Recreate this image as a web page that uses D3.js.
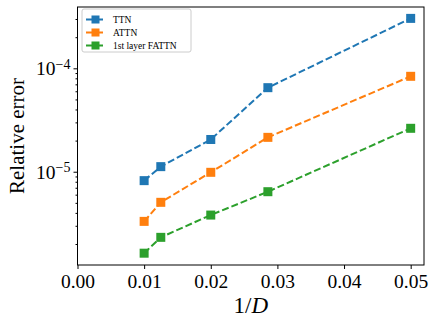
<!DOCTYPE html>
<html>
<head>
<meta charset="utf-8">
<script src="https://cdn.jsdelivr.net/npm/d3@7"></script>
<style>
  html, body { margin: 0; padding: 0; background: #fff; }
  svg { display: block; }
  text { font-family: "Liberation Serif", "DejaVu Serif", serif; fill: #000; }
</style>
</head>
<body>
<svg id="chart" width="436" height="325"></svg>
<script>
const xValues = [0.01, 0.0125, 0.02, 1/35, 0.05];
const seriesNames = ["TTN", "ATTN", "1st layer FATTN"];
const ttnValues = [8.2e-6, 1.12e-5, 2.05e-5, 6.5e-5, 3.04e-4];
const attnValues = [3.31e-6, 5.06e-6, 9.87e-6, 2.15e-5, 8.37e-5];
const fattnValues = [1.63e-6, 2.32e-6, 3.81e-6, 6.41e-6, 2.63e-5];
const seriesColors = ["#1f77b4", "#ff7f0e", "#2ca02c"];
const xTickValues = [0, 0.01, 0.02, 0.03, 0.04, 0.05];
const yMajorExponents = [-5, -4];

const svg = d3.select("#chart");
const margin = { left: 77.5, right: 12, top: 7, bottom: 60 };
const W = 436, H = 325;
const x = d3.scaleLinear().domain([0, 0.052]).range([margin.left, W - margin.right]);
const y = d3.scaleLog().domain([Math.pow(10, -5.902), Math.pow(10, -3.407)]).range([H - margin.bottom, margin.top]);

const seriesData = [ttnValues, attnValues, fattnValues];

const g = svg.append("g");

const line = d3.line().x((d, i) => x(xValues[i])).y(d => y(d));
seriesData.forEach((vals, si) => {
  g.append("path")
    .datum(vals)
    .attr("d", line)
    .attr("fill", "none")
    .attr("stroke", seriesColors[si])
    .attr("stroke-width", 2)
    .attr("stroke-dasharray", "7,3");
  g.selectAll(null)
    .data(vals)
    .enter()
    .append("rect")
    .attr("x", (d, i) => x(xValues[i]) - 4.5)
    .attr("y", d => y(d) - 4.5)
    .attr("width", 9)
    .attr("height", 9)
    .attr("fill", seriesColors[si]);
});

svg.append("rect")
  .attr("x", margin.left).attr("y", margin.top)
  .attr("width", W - margin.right - margin.left)
  .attr("height", H - margin.bottom - margin.top)
  .attr("fill", "none").attr("stroke", "#000").attr("stroke-width", 1);

const xAxis = d3.axisBottom(x).tickValues(xTickValues).tickFormat(d3.format(".2f")).tickSize(4).tickPadding(5);
const xg = svg.append("g").attr("transform", `translate(0,${H - margin.bottom})`).call(xAxis);
xg.select(".domain").remove();
xg.selectAll("text").style("font-size", "19.5px").style("font-family", "Liberation Serif, serif");

const minorVals = [];
for (let e = -6; e <= -4; e++) {
  for (let m = 2; m <= 9; m++) {
    const v = m * Math.pow(10, e);
    if (v >= y.domain()[0] && v <= y.domain()[1]) minorVals.push(v);
  }
}
const yMinor = d3.axisLeft(y).tickValues(minorVals).tickFormat("").tickSize(2);
const ymg = svg.append("g").attr("transform", `translate(${margin.left},0)`).call(yMinor);
ymg.select(".domain").remove();

const yMajorVals = yMajorExponents.map(e => Math.pow(10, e));
const yMajor = d3.axisLeft(y).tickValues(yMajorVals).tickFormat("").tickSize(4);
const yg = svg.append("g").attr("transform", `translate(${margin.left},0)`).call(yMajor);
yg.select(".domain").remove();

yg.selectAll(".tick").each(function(d, i) {
  const t = d3.select(this).append("text")
    .attr("x", -7)
    .attr("dy", "0.33em")
    .attr("text-anchor", "end")
    .style("font-size", "19.5px");
  t.append("tspan").text("10");
  t.append("tspan").attr("dy", "-0.45em").style("font-size", "14px").text("\u2212" + (-yMajorExponents[i]));
});

svg.append("text")
  .attr("transform", `translate(24,${(margin.top + H - margin.bottom) / 2}) rotate(-90)`)
  .attr("text-anchor", "middle")
  .style("font-size", "21px")
  .text("Relative error");

const xl = svg.append("text")
  .attr("x", (margin.left + W - margin.right) / 2)
  .attr("y", 313)
  .attr("text-anchor", "middle")
  .style("font-size", "23px");
xl.append("tspan").text("1/");
xl.append("tspan").style("font-style", "italic").text("D");

const leg = svg.append("g");
leg.append("rect")
  .attr("x", 82).attr("y", 9).attr("width", 109).attr("height", 43)
  .attr("rx", 2)
  .attr("fill", "#fff").attr("fill-opacity", 0.8)
  .attr("stroke", "#ccc").attr("stroke-width", 1);
seriesNames.forEach((name, i) => {
  const yy = 19.5 + i * 13;
  leg.append("line")
    .attr("x1", 86).attr("x2", 105).attr("y1", yy).attr("y2", yy)
    .attr("stroke", seriesColors[i]).attr("stroke-width", 2).attr("stroke-dasharray", "7,3");
  leg.append("rect")
    .attr("x", 95.5 - 4).attr("y", yy - 4).attr("width", 8).attr("height", 8)
    .attr("fill", seriesColors[i]);
  leg.append("text")
    .attr("x", 113).attr("y", yy).attr("dy", "0.35em")
    .style("font-size", "9.5px")
    .text(name);
});
</script>
</body>
</html>
